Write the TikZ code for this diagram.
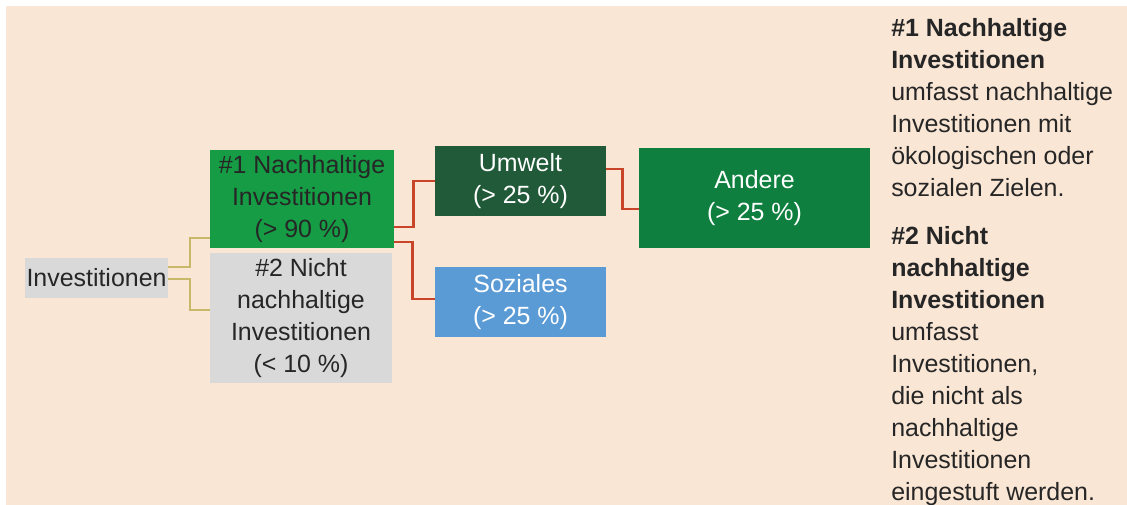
\documentclass[tikz,border=0pt]{standalone}
\usepackage{fontspec}
\setmainfont{Liberation Sans}
\definecolor{peach}{HTML}{FAE6D5}
\definecolor{boxgray}{HTML}{D9D9D9}
\definecolor{brightgreen}{HTML}{169C45}
\definecolor{darkgreen}{HTML}{215A38}
\definecolor{skyblue}{HTML}{5B9BD5}
\definecolor{midgreen}{HTML}{0E7F3E}
\definecolor{linkolive}{HTML}{C8B96A}
\definecolor{linkred}{HTML}{C8452A}
\definecolor{textgray}{HTML}{262626}
\begin{document}
\begin{tikzpicture}[x=0.75pt, y=-0.75pt, font=\fontsize{18.7}{24}\selectfont,
		box/.style 2 args={inner sep=0pt, minimum width=#1*0.75pt, minimum height=#2*0.75pt, align=center},
		oliveline/.style={draw=linkolive, line width=1.6pt},
		redline/.style={draw=linkred, line width=2.2pt}]
				\fill[peach] (6,6) rectangle (1127,505);
				\useasboundingbox (0,0) rectangle (1127,505);
				\node[box={143}{40}, fill=boxgray, text=textgray] (inv) at (96.5,278) {Investitionen};
				\node[box={184}{98}, fill=brightgreen, text=textgray] (nh) at (302,199) {\#1 Nachhaltige\\Investitionen\\(> 90 \%)};
				\node[box={182}{130}, fill=boxgray, text=textgray] (nnh) at (301,318) {\#2 Nicht\\nachhaltige\\Investitionen\\(< 10 \%)};
				\node[box={171}{70}, fill=darkgreen, text=white] (umw) at (520.5,181) {Umwelt\\(> 25 \%)};
				\node[box={171}{70}, fill=skyblue, text=white] (soz) at (520.5,302) {Soziales\\(> 25 \%)};
				\node[box={231}{100}, fill=midgreen, text=white] (and) at (754.5,198) {Andere\\(> 25 \%)};
				\draw[oliveline] ([yshift=8.25pt]inv.east) -- ++(22,0) |- ([yshift=7.5pt]nh.south west);
				\draw[oliveline] ([yshift=-0.75pt]inv.east) -- ++(22,0) |- ([yshift=6pt]nnh.west);
				\draw[redline] ([yshift=-21pt]nh.east) -- ++(19,0) |- (umw.west);
				\draw[redline] ([yshift=-32.25pt]nh.east) -- ++(18,0) |- ([yshift=2.25pt]soz.west);
				\draw[redline] ([yshift=9pt]umw.east) -- ++(16,0) |- ([yshift=-8.25pt]and.west);
				\node[anchor=north west, inner sep=0pt, align=left, text=textgray] (legend) at (891,18)
				{\textbf{\#1 Nachhaltige}\\ \textbf{Investitionen}\\ umfasst nachhaltige\\ Investitionen mit\\ ökologischen oder\\ sozialen Zielen.\\[12pt]
				\textbf{\#2 Nicht}\\ \textbf{nachhaltige}\\ \textbf{Investitionen}\\ umfasst\\ Investitionen,\\ die nicht als\\ nachhaltige\\ Investitionen\\ eingestuft werden.};
			\end{tikzpicture}
\end{document}
